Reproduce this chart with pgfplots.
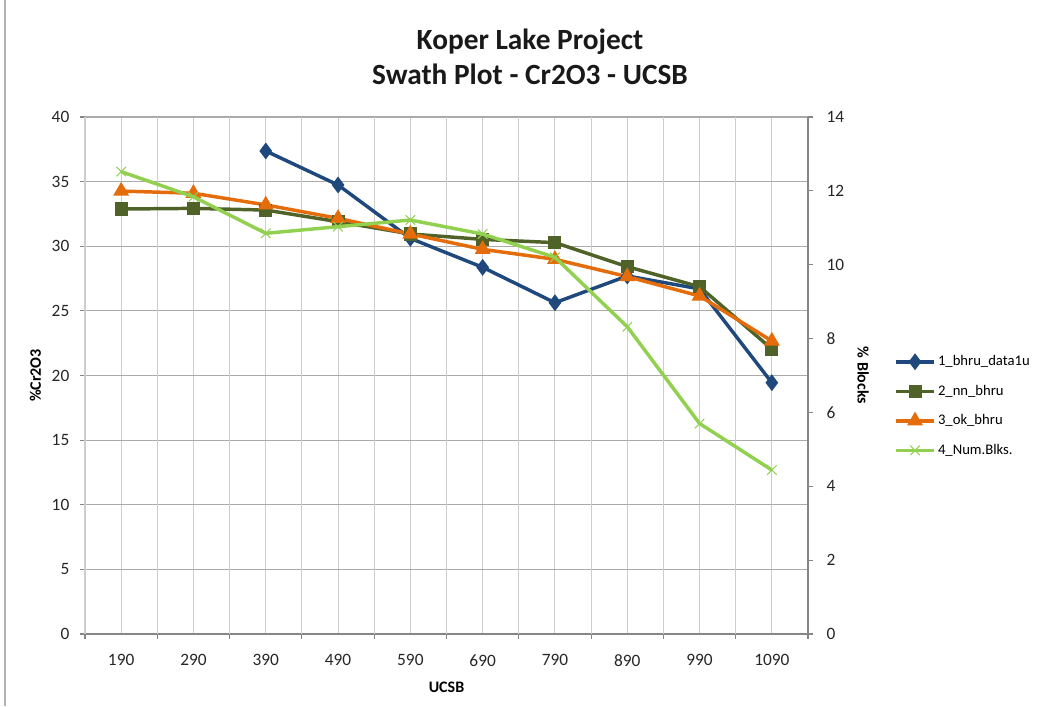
\documentclass[border=0pt]{standalone}
\usepackage{pgfplots}
\pgfplotsset{compat=1.18}
\usepackage{fontspec}
\setmainfont{Carlito}
\definecolor{sA}{RGB}{31,73,125}
\definecolor{sB}{RGB}{79,98,40}
\definecolor{sC}{RGB}{228,108,10}
\definecolor{sD}{RGB}{146,208,80}
\definecolor{axgray}{RGB}{134,134,134}
\definecolor{hgrid}{RGB}{170,170,170}
\definecolor{vgrid}{RGB}{205,205,205}
\begin{document}
\begin{tikzpicture}
\useasboundingbox (-63.75pt,-54pt) rectangle (722.25pt,475.5pt);
\draw[gray!60, line width=0.8pt] (-60pt,-54pt) -- (-60pt,475.5pt);
\pgfplotsset{
  every axis/.append style={
    scale only axis, width=542.25pt, height=387.75pt,
    at={(0pt,0pt)}, anchor=south west,
    xmin=-0.5, xmax=9.5,
    tick label style={font=\fontsize{13}{15}\selectfont, text=black!85},
    label style={font=\fontsize{12}{14}\selectfont\bfseries},
    /pgf/number format/assume math mode=true,
    tick align=outside,
    major tick length=3.75pt,
  },
}
\begin{axis}[
  axis line style={axgray, line width=0.8pt},
  axis y line*=left, axis x line*=bottom,
  ymin=0, ymax=40, ytick={0,5,...,40},
  xtick={0,...,9},
  xticklabels={190,290,390,490,590,690,790,890,990,1090},
  xtick style={draw=none},
  extra x ticks={-0.5,0.5,1.5,2.5,3.5,4.5,5.5,6.5,7.5,8.5,9.5},
  extra x tick labels={},
  extra x tick style={grid=major, xtick style={draw=axgray, line width=0.8pt}},
  xmajorgrids, ymajorgrids,
  x grid style={vgrid, line width=0.8pt},
  y grid style={hgrid, line width=0.8pt},
  ytick style={axgray, line width=0.8pt},
  xticklabel style={yshift=-7pt},
  yticklabel style={xshift=-3.4pt},
  xlabel={UCSB}, ylabel={\%Cr2O3},
  xlabel style={yshift=4pt},
  ylabel style={yshift=0pt},
  title={Koper Lake Project\\Swath Plot - Cr2O3 - UCSB},
  title style={at={(0.6155,1.100)}, anchor=center, align=center,
    font=\fontsize{22}{26.25}\selectfont\bfseries, text=black!90},
  line width=2.6pt,
  legend style={draw=none, fill=none, at={(1.112,0.552)}, anchor=north west,
    font=\fontsize{11}{13}\selectfont, row sep=9pt, legend cell align=left,
    /tikz/every even column/.append style={column sep=3pt}},
  legend image code/.code={\draw[mark repeat=2,mark phase=2] plot coordinates {(0cm,0cm)(0.49cm,0cm)(0.98cm,0cm)};},
]
\addplot[sA, mark=diamond*, mark size=4.2pt, mark options={solid}] coordinates {
 (2,37.37) (3,34.74) (4,30.61) (5,28.37) (6,25.63) (7,27.7) (8,26.7) (9,19.44)};
\addlegendentry{1\_bhru\_data1u}
\addplot[sB, mark=square*, mark size=3.6pt] coordinates {
 (0,32.88) (1,32.93) (2,32.8) (3,31.9) (4,30.95) (5,30.53) (6,30.28) (7,28.42) (8,26.87) (9,22.05)};
\addlegendentry{2\_nn\_bhru}
\addplot[sC, mark=triangle*, mark size=4.3pt] coordinates {
 (0,34.27) (1,34.1) (2,33.2) (3,32.16) (4,30.95) (5,29.76) (6,28.99) (7,27.65) (8,26.15) (9,22.67)};
\addlegendentry{3\_ok\_bhru}
\addlegendimage{sD, line width=2.6pt, mark=x, mark size=5pt, mark options={line width=0.8pt}}
\addlegendentry{4\_Num.Blks.}
\end{axis}
\begin{axis}[
  axis line style={axgray, line width=0.8pt},
  axis y line*=right, axis x line=none,
  ymin=0, ymax=14, ytick={0,2,...,14},
  ytick style={axgray, line width=0.8pt},
  yticklabel style={xshift=5.5pt},
  ylabel={\% Blocks},
  ylabel style={yshift=-2pt, rotate=180},
  line width=2.6pt,
]
\addplot[sD, mark=x, mark size=5pt, mark options={line width=0.8pt}] coordinates {
 (0,12.52) (1,11.84) (2,10.85) (3,11.03) (4,11.21) (5,10.83) (6,10.2) (7,8.32) (8,5.70) (9,4.44)};
\end{axis}
\end{tikzpicture}
\end{document}
